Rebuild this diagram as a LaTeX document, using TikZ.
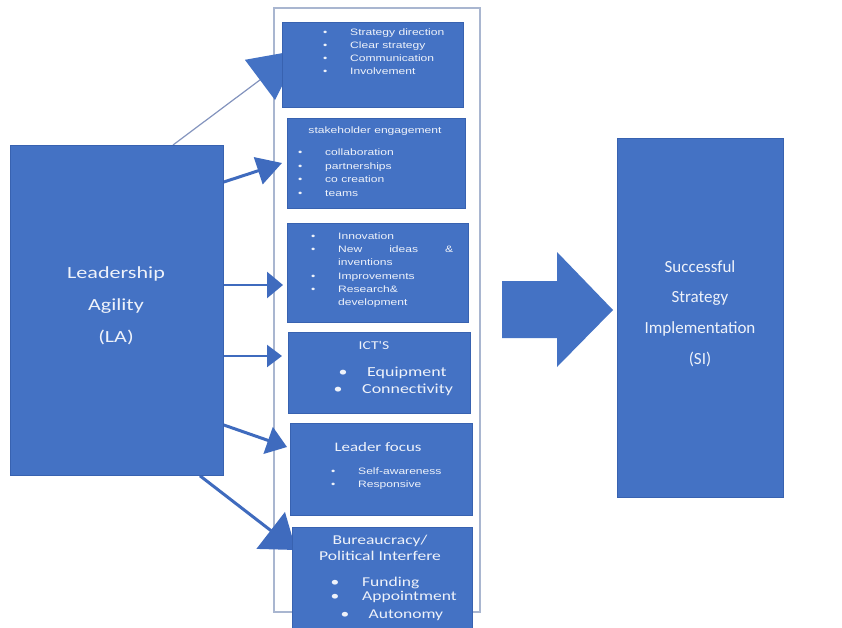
\documentclass[tikz,border=0pt]{standalone}
\usepackage{fontspec}
\setmainfont{Carlito}
\newfontfamily\fcal[FakeStretch=1.3]{Carlito}
\newfontfamily\fcaln{Carlito}
\newfontfamily\fari[FakeStretch=1.3]{Liberation Sans}
\usetikzlibrary{arrows.meta,calc}
\pgfdeclarelayer{back}
\pgfdeclarelayer{mid}
\pgfsetlayers{back,mid,main}
\definecolor{boxblue}{HTML}{4472C4}
\definecolor{edgeblue}{HTML}{3862B0}
\definecolor{framecol}{HTML}{A9B6D0}
\definecolor{thinline}{HTML}{8494BE}
\definecolor{arrowblue}{HTML}{3F6BBE}
\definecolor{txtcol}{HTML}{EEF2FA}
\newcommand\bul[1]{\makebox[#1][l]{\textbullet}}
\begin{document}
\begin{tikzpicture}[x=1pt,y=-1pt,
  box/.style={rectangle, fill=boxblue, draw=edgeblue, line width=0.8pt, inner sep=0pt, anchor=north west},
  txt/.style={inner sep=0pt, text=txtcol, anchor=base west},
  ctxt/.style={inner sep=0pt, text=txtcol, anchor=base},
  conn/.style={draw=arrowblue, line width=3pt},
  ari/.style={font=\fari\fontsize{9.3}{13}\selectfont},
  cal/.style={font=\fcal\fontsize{13.5}{14}\selectfont}]
\useasboundingbox (0,0) rectangle (842,628);
\begin{pgfonlayer}{back}
\fill[white] (0,0) rectangle (842,628);
\draw[framecol, line width=1.6pt] (274,8) rectangle (480,612);
\end{pgfonlayer}
\clip (0,0) rectangle (842,628);

% main boxes
\node[box, minimum width=213pt, minimum height=330pt] (LA) at (10,145) {};
\node[box, minimum width=166pt, minimum height=359pt] (SI) at (617,138) {};
\node[box, minimum width=181pt, minimum height=85pt] (b1) at (282,22) {};
\node[box, minimum width=178pt, minimum height=90pt] (b2) at (287,118) {};
\node[box, minimum width=181pt, minimum height=99pt] (b3) at (287,223) {};
\node[box, minimum width=182pt, minimum height=81pt] (b4) at (288,332) {};
\node[box, minimum width=182pt, minimum height=92pt] (b5) at (290,423) {};
\node[box, minimum width=180pt, minimum height=110pt] (b6) at (292,527) {};

% texts
\node[ctxt, font=\fcal\fontsize{17}{32}\selectfont] (tLA) at (116,278)
  {\begin{tabular}[t]{@{}c@{}}Leadership\\Agility\\(LA)\end{tabular}};
\node[ctxt, font=\fcaln\fontsize{17}{30.7}\selectfont] (tSI) at (700,272)
  {\begin{tabular}[t]{@{}c@{}}Successful\\Strategy\\Implementation\\(SI)\end{tabular}};

\node[txt, ari] (t1) at (323,35.5)
  {\begin{tabular}[t]{@{}l@{}}\bul{27pt}Strategy direction\\\bul{27pt}Clear strategy\\\bul{27pt}Communication\\\bul{27pt}Involvement\end{tabular}};

\node[ctxt, ari] (t2h) at (375,133.5) {stakeholder engagement};
\node[txt, font=\fari\fontsize{9.3}{13.7}\selectfont] (t2) at (298,155.5)
  {\begin{tabular}[t]{@{}l@{}}\bul{27pt}collaboration\\\bul{27pt}partnerships\\\bul{27pt}co creation\\\bul{27pt}teams\end{tabular}};

\node[txt, font=\fari\fontsize{9.3}{13.2}\selectfont] (t3) at (311,239.5)
  {\begin{tabular}[t]{@{}l@{}}\bul{27pt}Innovation\\\bul{27pt}\makebox[115pt][l]{New\hfill ideas\hfill\&}\\\makebox[27pt]{}inventions\\\bul{27pt}Improvements\\\bul{27pt}Research\&\\\makebox[27pt]{}development\end{tabular}};

\node[ctxt, font=\fcal\fontsize{12}{14}\selectfont] (t4h) at (374,349) {ICT'S};
\node[txt, font=\fcal\fontsize{13.8}{17}\selectfont] (t4) at (333.5,376.5)
  {\begin{tabular}[t]{@{}l@{}}\hspace*{5pt}\bul{28.5pt}Equipment\\\bul{28.5pt}Connectivity\end{tabular}};

\node[ctxt, font=\fcal\fontsize{13}{14}\selectfont] (t5h) at (378,451) {Leader focus};
\node[txt, ari] (t5) at (331,474.5)
  {\begin{tabular}[t]{@{}l@{}}\bul{27pt}Self-awareness\\\bul{27pt}Responsive\end{tabular}};

\node[ctxt, font=\fcal\fontsize{13.5}{16}\selectfont] (t6h) at (380,544)
  {\begin{tabular}[t]{@{}c@{}}Bureaucracy/\\Political Interfere\end{tabular}};
\node[txt, cal] (t6) at (330.5,586)
  {\begin{tabular}[t]{@{}l@{}}\bul{31.5pt}Funding\\\bul{31.5pt}Appointment\\[4pt]\hspace*{10pt}\bul{28pt}Autonomy\end{tabular}};

% arrow tips
\coordinate (h1) at (300,50);
\coordinate (h2) at (282,163);
\coordinate (h3) at (283,285);
\coordinate (h4) at (282,356);
\coordinate (h5) at (287,447);
\coordinate (h6) at (296,550);

\begin{pgfonlayer}{mid}
\draw[thinline, line width=1.2pt, -{Triangle[length=50pt,width=50pt,color=boxblue]}]
  ($(LA.north west)+(163,0)$) -- (h1);
\draw[conn, -{Triangle[length=25pt,width=28pt]}] ($(LA.north east)+(0,37)$) -- (h2);
\draw[conn, line width=2.5pt, -{Triangle[length=16pt,width=26pt]}] ($(LA.north east)+(0,140)$) -- (h3);
\draw[conn, line width=2.5pt, -{Triangle[length=15pt,width=22pt]}] ($(LA.north east)+(0,211)$) -- (h4);
\draw[conn, -{Triangle[length=20pt,width=28pt]}] ($(LA.north east)+(0,280)$) -- (h5);
\draw[conn, -{Triangle[length=32pt,width=46pt]}] ($(LA.south west)+(190,0)$) -- (h6);
\end{pgfonlayer}

% big block arrow into SI
\fill[boxblue] (502,281) -- (557,281) -- (557,252) -- (613,310) -- (557,367) -- (557,338) -- (502,338) -- cycle;
\end{tikzpicture}
\end{document}
